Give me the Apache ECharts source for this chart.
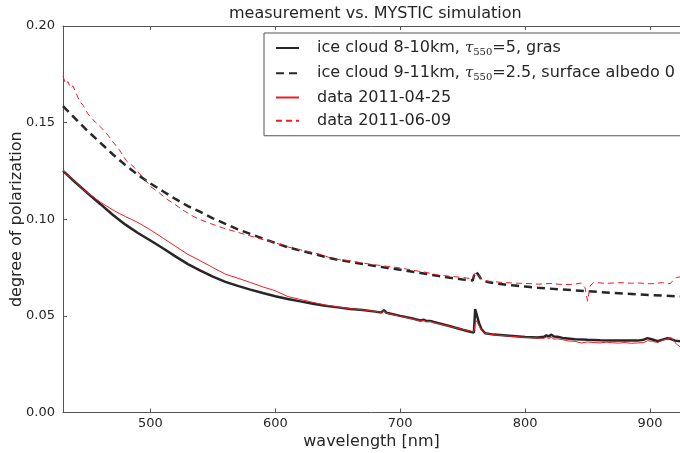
<!DOCTYPE html>
<html>
<head>
<meta charset="utf-8">
<script src="https://cdn.jsdelivr.net/npm/echarts@6/dist/echarts.min.js"></script>
<style>html,body{margin:0;padding:0;background:#fff}#c{width:680px;height:453px}</style>
</head>
<body>
<div id="c"></div>
<script>
// x tick labels (wavelength, nm) and y ticks
var xTicks = [500, 600, 700, 800, 900];
var yTicks = [0, 0.05, 0.10, 0.15, 0.20];

// ice cloud 8-10km, tau550=5, gras (simulation, black solid)
var sim1Wl = [430,440,450,460,470,480,490,500,510,520,530,540,550,560,570,580,590,600,610,620,630,640,650,660,670,680,685,687,689,700,710,716,719,721,724,727,730,740,750,756,759,760,761,763,765,768,775,790,800,810,815,817,819,821,823,826,830,840,850,860,870,880,890,895,898,902,906,910,914,917,920,924];
var sim1Val = [0.1250,0.1190,0.1133,0.1078,0.1022,0.0972,0.0929,0.0890,0.0850,0.0808,0.0768,0.0734,0.0703,0.0676,0.0655,0.0636,0.0618,0.0602,0.0587,0.0575,0.0563,0.0552,0.0544,0.0536,0.0530,0.0522,0.0518,0.0530,0.0516,0.0500,0.0486,0.0476,0.0480,0.0473,0.0474,0.0468,0.0463,0.0446,0.0428,0.0418,0.0414,0.0535,0.0530,0.0465,0.0432,0.0410,0.0403,0.0396,0.0391,0.0388,0.0392,0.0399,0.0394,0.0403,0.0393,0.0392,0.0386,0.0379,0.0376,0.0374,0.0373,0.0372,0.0372,0.0377,0.0385,0.0378,0.0369,0.0377,0.0384,0.0380,0.0372,0.0368];

// ice cloud 9-11km, tau550=2.5, surface albedo 0 (simulation, black dashed)
var sim2Wl = [430,440,450,460,470,480,490,500,510,520,530,540,550,560,570,580,590,600,610,620,630,640,650,660,670,680,690,700,710,720,730,740,750,758,760,762,765,770,780,790,800,810,820,830,840,850,860,870,880,890,900,910,920,924];
var sim2Val = [0.1585,0.1520,0.1455,0.1395,0.1335,0.1280,0.1230,0.1185,0.1145,0.1105,0.1068,0.1038,0.1005,0.0976,0.0948,0.0924,0.0900,0.0877,0.0855,0.0838,0.0822,0.0805,0.0790,0.0780,0.0768,0.0758,0.0748,0.0739,0.0728,0.0718,0.0707,0.0697,0.0688,0.0683,0.0730,0.0718,0.0688,0.0675,0.0665,0.0658,0.0652,0.0646,0.0641,0.0636,0.0632,0.0628,0.0623,0.0619,0.0615,0.0611,0.0608,0.0605,0.0602,0.0600];

// data 2011-04-25 (red solid)
var data1Wl = [430,433,436,440,445,450,455,460,465,470,475,480,485,490,500,510,520,530,540,550,560,570,580,590,600,610,620,630,640,650,660,670,680,685,687,689,700,710,716,719,721,724,727,730,740,750,756,759,760,761,763,765,768,775,790,800,810,815,817,819,821,823,826,830,835,840,845,850,855,860,865,870,875,880,885,890,895,898,902,906,910,914,917,920,922,924];
var data1Val = [0.1255,0.1230,0.1218,0.1192,0.1160,0.1135,0.1112,0.1088,0.1068,0.1048,0.1030,0.1014,0.0999,0.0983,0.0945,0.0903,0.0860,0.0818,0.0785,0.0750,0.0716,0.0695,0.0673,0.0650,0.0630,0.0600,0.0585,0.0570,0.0556,0.0546,0.0537,0.0531,0.0523,0.0518,0.0524,0.0514,0.0498,0.0484,0.0474,0.0476,0.0470,0.0471,0.0465,0.0461,0.0445,0.0430,0.0421,0.0418,0.0462,0.0475,0.0450,0.0428,0.0410,0.0402,0.0394,0.0389,0.0385,0.0384,0.0390,0.0383,0.0389,0.0380,0.0381,0.0377,0.0370,0.0368,0.0360,0.0365,0.0362,0.0360,0.0364,0.0361,0.0359,0.0362,0.0358,0.0360,0.0362,0.0372,0.0368,0.0362,0.0374,0.0382,0.0386,0.0362,0.0350,0.0340];

// data 2011-06-09 (red dashed)
var data2Wl = [430,432,434,436,438,440,442,444,446,450,454,458,462,466,470,475,481,486,490,495,500,507,514,520,527,534,540,548,558,570,585,600,611,620,630,638,645,650,660,670,680,690,700,710,720,730,740,750,755,758,760,762,765,770,780,790,800,811,820,830,838,845,848,850,852,855,865,875,885,891,900,910,916,919,921,924];
var data2Val = [0.1741,0.1700,0.1712,0.1680,0.1690,0.1660,0.1630,0.1605,0.1590,0.1545,0.1515,0.1490,0.1465,0.1435,0.1400,0.1360,0.1300,0.1275,0.1245,0.1210,0.1170,0.1137,0.1100,0.1075,0.1043,0.1016,0.0998,0.0978,0.0955,0.0932,0.0904,0.0878,0.0855,0.0842,0.0828,0.0815,0.0797,0.0792,0.0785,0.0773,0.0764,0.0756,0.0748,0.0736,0.0726,0.0712,0.0705,0.0699,0.0694,0.0690,0.0722,0.0716,0.0690,0.0680,0.0674,0.0670,0.0668,0.0664,0.0668,0.0662,0.0663,0.0670,0.0645,0.0576,0.0655,0.0673,0.0668,0.0672,0.0669,0.0670,0.0666,0.0672,0.0667,0.0685,0.0698,0.0702];

function pairs(xs, ys) { return xs.map(function (x, i) { return [x, ys[i]]; }); }

var FONT = 'DejaVu Sans';
var TXT = '#262626';
var AX = '#555555';

var legendText = {
  'sim1': '{g|}{n|ice cloud 8-10km, }{t|τ}{s|550}{n|=5, gras}',
  'sim2': '{g|}{n|ice cloud 9-11km, }{t|τ}{s|550}{n|=2.5, surface albedo 0}',
  'data1': '{g|}{n|data 2011-04-25}',
  'data2': '{g|}{n|data 2011-06-09}'
};

var chart = echarts.init(document.getElementById('c'), null, {renderer: 'canvas'});
chart.setOption({
  animation: false,
  backgroundColor: '#ffffff',
  title: {
    text: 'measurement vs. MYSTIC simulation',
    left: 229, top: 6, padding: 0,
    textStyle: {fontFamily: FONT, fontSize: 16, fontWeight: 'normal', color: TXT}
  },
  grid: {left: 63, right: 0, top: 26, bottom: 40.5, containLabel: false, outerBoundsMode: 'none'},
  legend: {
    orient: 'vertical', left: 264, top: 33,
    padding: [6, 7, 7, 11], itemGap: 7.25,
    itemWidth: 23, itemHeight: 20,
    borderColor: AX, borderWidth: 1, backgroundColor: '#ffffff',
    selectedMode: false,
    itemStyle: {opacity: 0},
    data: ['sim1', 'sim2', 'data1', 'data2'],
    formatter: function (name) { return legendText[name]; },
    textStyle: {
      rich: {
        g: {width: 13, lineHeight: 20},
        n: {fontFamily: FONT, fontSize: 16, color: TXT, lineHeight: 20},
        t: {fontFamily: 'DejaVu Serif', fontStyle: 'italic', fontSize: 15, color: TXT, lineHeight: 20},
        s: {fontFamily: 'DejaVu Serif', fontSize: 10, color: TXT, padding: [8, 0, 0, 0], lineHeight: 20}
      }
    }
  },
  xAxis: [{
    type: 'value', min: 430, max: 924, position: 'bottom',
    name: 'wavelength [nm]', nameLocation: 'middle', nameGap: 21,
    nameMoveOverlap: false,
    nameTextStyle: {fontFamily: FONT, fontSize: 16, color: TXT},
    axisLine: {show: true, lineStyle: {color: AX, width: 1}},
    axisTick: {show: true, inside: true, length: 4, customValues: xTicks, lineStyle: {color: AX}},
    axisLabel: {customValues: xTicks, fontFamily: FONT, fontSize: 13, color: TXT, margin: 5},
    splitLine: {show: false}
  }, {
    type: 'value', min: 430, max: 924, position: 'top',
    axisLine: {show: true, lineStyle: {color: AX, width: 1}},
    axisTick: {show: true, inside: true, length: 4, customValues: xTicks, lineStyle: {color: AX}},
    axisLabel: {show: false},
    splitLine: {show: false}
  }],
  yAxis: {
    type: 'value', min: 0, max: 0.2, interval: 0.05,
    name: 'degree of polarization', nameLocation: 'middle', nameGap: 38,
    nameMoveOverlap: false,
    nameTextStyle: {fontFamily: FONT, fontSize: 16, color: TXT},
    axisLine: {show: true, lineStyle: {color: AX, width: 1}},
    axisTick: {show: true, inside: true, length: 4, lineStyle: {color: AX}},
    axisLabel: {fontFamily: FONT, fontSize: 13, color: TXT, margin: 8,
      formatter: function (v) { return v.toFixed(2); }},
    splitLine: {show: false}
  },
  series: [{
    name: 'sim1', type: 'line', symbol: 'none', xAxisIndex: 0,
    data: pairs(sim1Wl, sim1Val),
    lineStyle: {color: '#262626', width: 2.5, type: 'solid'}, itemStyle: {color: '#262626'}
  }, {
    name: 'sim2', type: 'line', symbol: 'none', xAxisIndex: 0,
    data: pairs(sim2Wl, sim2Val),
    lineStyle: {color: '#262626', width: 2.5, type: [8, 5]}, itemStyle: {color: '#262626'}
  }, {
    name: 'data1', type: 'line', symbol: 'none', xAxisIndex: 0,
    data: pairs(data1Wl, data1Val),
    lineStyle: {color: '#ee1c24', width: 1, type: 'solid'}, itemStyle: {color: '#ee1c24'}
  }, {
    name: 'data2', type: 'line', symbol: 'none', xAxisIndex: 0,
    data: pairs(data2Wl, data2Val),
    lineStyle: {color: '#ee1c24', width: 1, type: [6, 4]}, itemStyle: {color: '#ee1c24'}
  }]
});
</script>
</body>
</html>
